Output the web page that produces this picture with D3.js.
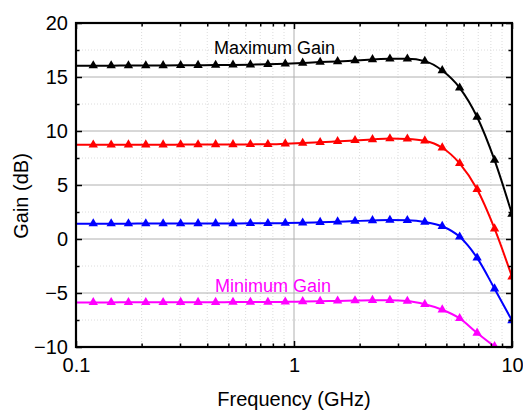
<!DOCTYPE html>
<html>
<head>
<meta charset="utf-8">
<script src="https://cdn.jsdelivr.net/npm/d3@7"></script>
<style>
  body { margin: 0; background: #fff; }
  svg { display: block; font-family: "Liberation Sans", Arial, sans-serif; }
</style>
</head>
<body>
<svg width="523" height="411"></svg>
<script>
// tần số (GHz), cách đều trên thang log
const freq = [0.1, 0.120, 0.145, 0.174, 0.209, 0.251, 0.302, 0.363, 0.437, 0.525, 0.631,
  0.759, 0.912, 1.096, 1.318, 1.585, 1.905, 2.291, 2.754, 3.311, 3.981, 4.786, 5.754,
  6.918, 8.318, 10];

// độ lợi (dB) của 4 đường
const gainMax = [16.05, 16.05, 16.05, 16.06, 16.06, 16.07, 16.08, 16.09, 16.1, 16.12, 16.14,
  16.17, 16.22, 16.3, 16.38, 16.44, 16.53, 16.62, 16.68, 16.68, 16.47, 15.6, 14.0, 11.3, 7.3, 2.3];
const gainMid1 = [8.72, 8.72, 8.72, 8.73, 8.73, 8.73, 8.74, 8.74, 8.75, 8.75, 8.76,
  8.77, 8.82, 8.88, 8.95, 9.04, 9.13, 9.22, 9.3, 9.27, 9.1, 8.45, 7.0, 4.6, 0.95, -3.5];
const gainMid2 = [1.42, 1.42, 1.42, 1.42, 1.43, 1.43, 1.43, 1.44, 1.44, 1.44, 1.45,
  1.45, 1.47, 1.5, 1.55, 1.6, 1.66, 1.72, 1.75, 1.73, 1.58, 1.18, 0.2, -1.75, -4.6, -7.55];
const gainMin = [-5.87, -5.87, -5.87, -5.86, -5.86, -5.86, -5.85, -5.85, -5.85, -5.84, -5.84,
  -5.84, -5.82, -5.79, -5.76, -5.73, -5.7, -5.67, -5.67, -5.75, -6.05, -6.55, -7.35, -8.7, -9.95];

const seriesList = [
  { values: gainMax, color: "#000000" },
  { values: gainMid1, color: "#ff0000" },
  { values: gainMid2, color: "#0000ff" },
  { values: gainMin, color: "#ff00ff" }
];

// nhãn trục
const xTicks = [0.1, 1, 10];
const xTickLabels = ["0.1", "1", "10"];
const xMinor = [0.2, 0.3, 0.4, 0.5, 0.6, 0.7, 0.8, 0.9, 2, 3, 4, 5, 6, 7, 8, 9];
const yTicks = [-10, -5, 0, 5, 10, 15, 20];
const yMinor = [-7.5, -2.5, 2.5, 7.5, 12.5, 17.5];

// Các thông số chung
const svg = d3.select("svg");
const margin = { top: 23, right: 11, bottom: 64, left: 76 };
const width = +svg.attr("width") - margin.left - margin.right;
const height = +svg.attr("height") - margin.top - margin.bottom;
const chart = svg.append("g").attr("transform", `translate(${margin.left},${margin.top})`);
const font = "'Liberation Sans', Arial, sans-serif";

const x = d3.scaleLog().domain([0.1, 10]).range([0, width]);
const y = d3.scaleLinear().domain([-10, 20]).range([height, 0]);

svg.append("defs").append("clipPath").attr("id", "plot-clip")
  .append("rect").attr("width", width).attr("height", height);

// lưới phụ (chấm mờ)
chart.append("g").selectAll("line.gx-minor")
  .data(xMinor).enter().append("line")
  .attr("x1", d => x(d)).attr("x2", d => x(d))
  .attr("y1", 0).attr("y2", height)
  .attr("stroke", "#dcdcdc").attr("stroke-width", 1).attr("stroke-dasharray", "1,2");
chart.append("g").selectAll("line.gy-minor")
  .data(yMinor).enter().append("line")
  .attr("x1", 0).attr("x2", width)
  .attr("y1", d => y(d)).attr("y2", d => y(d))
  .attr("stroke", "#dcdcdc").attr("stroke-width", 1).attr("stroke-dasharray", "1,2");

// lưới chính
chart.append("g").selectAll("line")
  .data(xTicks.slice(1, -1)).enter().append("line")
  .attr("x1", d => x(d)).attr("x2", d => x(d))
  .attr("y1", 0).attr("y2", height)
  .attr("stroke", "#b0b0b0").attr("stroke-width", 1);
chart.append("g").selectAll("line")
  .data(yTicks.slice(1, -1)).enter().append("line")
  .attr("x1", 0).attr("x2", width)
  .attr("y1", d => y(d)).attr("y2", d => y(d))
  .attr("stroke", "#b0b0b0").attr("stroke-width", 1);

// vẽ các đường + marker tam giác
const line = d3.line()
  .x((d, i) => x(freq[i]))
  .y(d => y(d))
  .curve(d3.curveMonotoneX);

const plot = chart.append("g").attr("clip-path", "url(#plot-clip)");

seriesList.forEach(s => {
  plot.append("path")
    .datum(s.values)
    .attr("fill", "none")
    .attr("stroke", s.color)
    .attr("stroke-width", 2)
    .attr("d", line);

  plot.selectAll(null)
    .data(s.values.map((v, i) => ({ f: freq[i], v })).slice(1))
    .enter()
    .append("path")
    .attr("d", d3.symbol(d3.symbolTriangle, 38))
    .attr("transform", d => `translate(${x(d.f)},${y(d.v)})`)
    .attr("fill", s.color);
});

// trục (tick hướng vào trong)
function styleAxis(g) {
  g.select(".domain").remove();
  g.selectAll("line").attr("stroke", "#000").attr("stroke-width", 1.5);
  g.selectAll("text").attr("fill", "#000").style("font-family", font).style("font-size", "20px");
}

chart.append("g")
  .attr("transform", `translate(0,${height})`)
  .call(d3.axisBottom(x).tickValues(xTicks).tickSize(-6).tickPadding(11)
    .tickFormat((d, i) => xTickLabels[i]))
  .call(styleAxis);
chart.append("g")
  .attr("transform", `translate(0,${height})`)
  .call(d3.axisBottom(x).tickValues(xMinor).tickSize(-3.5).tickFormat(""))
  .call(styleAxis);
chart.append("g")
  .call(d3.axisTop(x).tickValues(xTicks).tickSize(-6).tickFormat(""))
  .call(styleAxis);
chart.append("g")
  .call(d3.axisTop(x).tickValues(xMinor).tickSize(-3.5).tickFormat(""))
  .call(styleAxis);

chart.append("g")
  .call(d3.axisLeft(y).tickValues(yTicks).tickSize(-6).tickPadding(8))
  .call(styleAxis);
chart.append("g")
  .call(d3.axisLeft(y).tickValues(yMinor).tickSize(-3.5).tickFormat(""))
  .call(styleAxis);
chart.append("g")
  .attr("transform", `translate(${width},0)`)
  .call(d3.axisRight(y).tickValues(yTicks).tickSize(-6).tickFormat(""))
  .call(styleAxis);
chart.append("g")
  .attr("transform", `translate(${width},0)`)
  .call(d3.axisRight(y).tickValues(yMinor).tickSize(-3.5).tickFormat(""))
  .call(styleAxis);

// khung
chart.append("rect")
  .attr("width", width)
  .attr("height", height)
  .attr("fill", "none")
  .attr("stroke", "#000")
  .attr("stroke-width", 2.2);

// chú thích trên đường
chart.append("text")
  .attr("x", x(0.43))
  .attr("y", y(17.13))
  .style("font-size", "18px")
  .attr("fill", "#000")
  .text("Maximum Gain");
chart.append("text")
  .attr("x", x(0.434))
  .attr("y", y(-4.88))
  .style("font-size", "18px")
  .attr("fill", "#ff00ff")
  .text("Minimum Gain");

// tên trục x
svg.append("text")
  .attr("x", margin.left + width / 2)
  .attr("y", 406)
  .attr("text-anchor", "middle")
  .style("font-size", "20px")
  .text("Frequency (GHz)");
// tên trục y
svg.append("text")
  .attr("transform", "rotate(-90)")
  .attr("x", -196)
  .attr("y", 28)
  .attr("text-anchor", "middle")
  .style("font-size", "20px")
  .text("Gain (dB)");
</script>
</body>
</html>
